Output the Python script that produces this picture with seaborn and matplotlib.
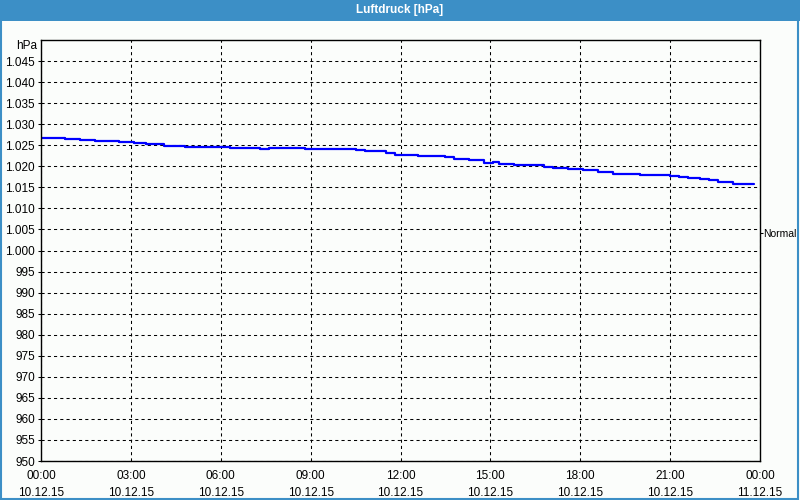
import numpy as np
import pandas as pd
import seaborn as sns
import matplotlib.pyplot as plt
from matplotlib.patches import Rectangle
from matplotlib.ticker import MultipleLocator

# step positions (hours since 00:00 10.12.15) and air pressure in hPa
hours = [0.0, 0.8, 1.3, 1.8, 2.6, 3.1, 3.5, 4.1, 4.8, 6.3, 7.3, 7.6, 8.8, 9.5,
         10.3, 10.5, 10.8, 11.5, 11.8, 12.6, 13.5, 13.8, 14.3, 14.8, 15.1, 15.3,
         15.8, 16.8, 17.1, 17.6, 18.1, 18.6, 19.1, 20.0, 21.0, 21.3, 21.6, 22.0,
         22.3, 22.6, 23.1, 23.8]
pressure = [1026.7, 1026.5, 1026.3, 1026.0, 1025.7, 1025.5, 1025.3, 1024.9, 1024.7,
            1024.4, 1024.1, 1024.4, 1024.2, 1024.0, 1024.1, 1023.8, 1023.6, 1023.2,
            1022.8, 1022.5, 1022.2, 1021.8, 1021.4, 1020.8, 1021.0, 1020.6, 1020.3,
            1019.9, 1019.6, 1019.4, 1019.1, 1018.6, 1018.2, 1017.9, 1017.7, 1017.5,
            1017.2, 1017.0, 1016.7, 1016.3, 1015.9, 1015.9]

x_ticks = [0, 3, 6, 9, 12, 15, 18, 21, 24]
x_labels = ["00:00\n10.12.15", "03:00\n10.12.15", "06:00\n10.12.15",
            "09:00\n10.12.15", "12:00\n10.12.15", "15:00\n10.12.15",
            "18:00\n10.12.15", "21:00\n10.12.15", "00:00\n11.12.15"]
y_ticks = list(range(950, 1050, 5))
y_labels = [f"{v / 1000:.3f}" if v >= 1000 else str(v) for v in y_ticks]
normal_value = 1004.2

df = pd.DataFrame({"hour": hours, "hPa": pressure})

sns.set_style("white")
plt.rcParams["font.family"] = ["Liberation Sans", "DejaVu Sans"]
plt.rcParams["font.size"] = 8.5
plt.rcParams["text.color"] = "black"

blue_frame = "#3C8FC6"
bg = "#FBFDFB"

fig = plt.figure(figsize=(8, 5), dpi=100, facecolor=bg)
ax = fig.add_axes([41 / 800, 1 - 461 / 500, 719 / 800, 421 / 500])
ax.set_facecolor(bg)

sns.lineplot(data=df, x="hour", y="hPa", ax=ax, color="#0000FF", linewidth=1.6,
             drawstyle="steps-post", estimator=None, sort=False)

ax.set_xlim(0, 24)
ax.set_ylim(950, 1050)
ax.set_xticks(x_ticks)
ax.set_xticklabels(x_labels, linespacing=1.55)
ax.xaxis.set_minor_locator(MultipleLocator(1))
ax.set_yticks(y_ticks)
ax.set_yticklabels(y_labels)
ax.set_xlabel("")
ax.set_ylabel("")

ax.grid(True, which="major", color="black", linestyle=(0, (3, 3)), linewidth=0.75)
ax.tick_params(axis="both", which="both", direction="out", length=2.5, width=0.75,
               color="black", labelcolor="black", pad=2)
ax.tick_params(axis="x", which="major", pad=4)
for s in ax.spines.values():
    s.set_color("black")
    s.set_linewidth(1.0)

ax.text(-0.005, 1.0, "hPa", transform=ax.transAxes, ha="right", va="top",
        color="black")

# right-hand "Normal" marker
ax2 = ax.twinx()
ax2.set_ylim(950, 1050)
ax2.set_yticks([normal_value])
ax2.set_yticklabels(["Normal"])
ax2.tick_params(axis="y", direction="out", length=2, width=0.75, pad=0.5,
                color="black", labelcolor="black", labelsize=7.5)
for s in ax2.spines.values():
    s.set_visible(False)

# title bar and outer frame
fig.patches.append(Rectangle((0, 1 - 21 / 500), 1, 21 / 500, transform=fig.transFigure,
                             facecolor=blue_frame, edgecolor="none", zorder=0))
fig.patches.append(Rectangle((0.001, 0.002), 0.997, 0.996, transform=fig.transFigure,
                             facecolor="none", edgecolor=blue_frame, linewidth=1.5, zorder=1))
fig.text(0.5, 1 - 10.5 / 500, "Luftdruck [hPa]", ha="center", va="center",
         color="white", fontweight="bold", fontsize=8.5)

fig.savefig("out.png", dpi=100, facecolor=bg)
